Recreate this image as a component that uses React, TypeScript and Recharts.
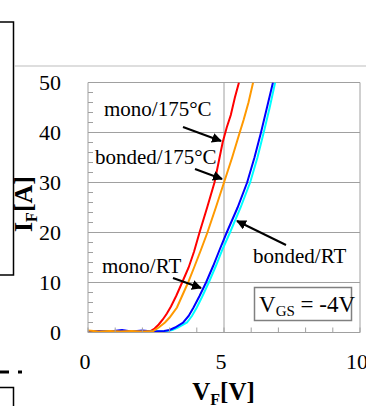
import { LineChart, Line, XAxis, YAxis, ReferenceLine } from 'recharts';

// forward I-V curves, V_F [V] against I_F [A]
const monoHotV = [0, 0.4, 0.8, 1.2, 1.6, 2.0, 2.3, 2.45, 2.6, 2.75, 2.9, 3.05, 3.25, 3.46, 3.7, 3.9, 4.1, 4.38, 4.65, 4.8, 4.95, 5.1, 5.25, 5.4, 5.55];
const monoHotI = [0.3, 0.2, 0.3, 0.2, 0.3, 0.2, 0.3, 0.8, 1.6, 2.6, 3.8, 5.2, 7.4, 10, 13, 16.2, 20, 25, 30, 34, 38, 41, 43.5, 47, 50];

const bondedHotV = [0, 0.4, 0.8, 1.2, 1.6, 2.0, 2.4, 2.6, 2.83, 3.0, 3.27, 3.45, 3.68, 3.9, 4.15, 4.39, 4.7, 5.0, 5.3, 5.55, 5.72, 5.9, 6.07];
const bondedHotI = [0.4, 0.2, 0.3, 0.2, 0.3, 0.2, 0.3, 1.0, 2.0, 3.0, 5.0, 7.2, 10, 13, 16.5, 20, 25, 30, 35, 39.5, 42.5, 46, 50];

const monoRtV = [0, 0.4, 0.8, 1.25, 1.6, 2.0, 2.4, 2.8, 3.0, 3.2, 3.5, 3.7, 3.88, 4.1, 4.34, 4.6, 4.85, 5.1, 5.5, 5.85, 6.12, 6.36, 6.58, 6.8];
const monoRtI = [0.2, 0.3, 0.2, 0.5, 0.2, 0.4, 0.2, 0.3, 0.5, 1.0, 2.0, 3.3, 5.0, 7.3, 10, 13.3, 16.7, 20, 25, 30, 35, 40, 45, 50];

const bondedRtV = [0, 0.4, 0.8, 1.2, 1.6, 2.0, 2.4, 2.8, 3.1, 3.3, 3.64, 3.82, 4.0, 4.2, 4.44, 4.7, 4.95, 5.22, 5.61, 5.96, 6.23, 6.46, 6.68, 6.88];
const bondedRtI = [0.2, 0.2, 0.3, 0.2, 0.3, 0.2, 0.3, 0.2, 0.5, 1.0, 2.0, 3.3, 5.0, 7.2, 10, 13.3, 16.7, 20, 25, 30, 35, 40, 45, 50];

const xTicks = [0, 1, 2, 3, 4, 5, 6, 7, 8, 9, 10];
const yTicks = [0, 2, 4, 6, 8, 10, 12, 14, 16, 18, 20, 22, 24, 26, 28, 30, 32, 34, 36, 38, 40, 42, 44, 46, 48, 50];
const xLabelTicks = [0, 5, 10];
const yLabelTicks = [0, 10, 20, 30, 40, 50];
const gridY = [10, 20, 30, 40];

const pts = (v: number[], i: number[]) => v.map((x, k) => ({ v: x, i: i[k] }));

const serif = '"Liberation Serif", "Times New Roman", serif';
const grey = '#a0a0a0';

const YTick = (props: any) => {
  const { x, y, payload } = props;
  return (
    <g>
      <line x1={x} x2={x + 5} y1={y} y2={y} stroke={grey} />
      {yLabelTicks.includes(payload.value) && (
        <text x={x - 27} y={y + 7.5} textAnchor="end" fontFamily={serif} fontSize={22} fill="#000">
          {payload.value}
        </text>
      )}
    </g>
  );
};

const XTick = (props: any) => {
  const { x, y, payload } = props;
  return (
    <g>
      <line x1={x} x2={x} y1={y} y2={y - 5} stroke={grey} />
      {xLabelTicks.includes(payload.value) && (
        <text x={x - 3} y={y + 36.5} textAnchor="middle" fontFamily={serif} fontSize={22} fill="#000">
          {payload.value}
        </text>
      )}
    </g>
  );
};

export default function App() {
  return (
    <div style={{ position: 'fixed', left: 0, top: 0, width: 366, height: 406, overflow: 'hidden', background: '#fff' }}>
      <LineChart width={400} height={406} margin={{ top: 82.5, right: 40, bottom: 43.5, left: 0 }}>
        <XAxis
          type="number"
          dataKey="v"
          domain={[0, 10]}
          ticks={xTicks}
          interval={0}
          tickSize={0}
          tickMargin={0}
          tickLine={false}
          tick={<XTick />}
          stroke={grey}
          height={30}
        />
        <YAxis
          type="number"
          dataKey="i"
          domain={[0, 50]}
          ticks={yTicks}
          interval={0}
          tickSize={0}
          tickMargin={0}
          tickLine={false}
          tick={<YTick />}
          stroke={grey}
          width={88}
          allowDataOverflow
        />
        {gridY.map(g => (
          <ReferenceLine key={g} y={g} stroke={grey} />
        ))}
        <ReferenceLine x={5} stroke={grey} />
        <ReferenceLine y={50} stroke={grey} />
        <ReferenceLine x={10} stroke={grey} />
        <Line data={pts(monoHotV, monoHotI)} dataKey="i" stroke="#ff0000" strokeWidth={2} dot={false} isAnimationActive={false} />
        <Line data={pts(bondedRtV, bondedRtI)} dataKey="i" stroke="#00ffff" strokeWidth={2} dot={false} isAnimationActive={false} />
        <Line data={pts(monoRtV, monoRtI)} dataKey="i" stroke="#0000ff" strokeWidth={2} dot={false} isAnimationActive={false} />
        <Line data={pts(bondedHotV, bondedHotI)} dataKey="i" stroke="#ff9900" strokeWidth={2} dot={false} isAnimationActive={false} />
      </LineChart>

      <svg width={366} height={406} style={{ position: 'absolute', left: 0, top: 0, pointerEvents: 'none' }}>
        <defs>
          <marker id="arr" viewBox="0 0 10 10" refX="9" refY="5" markerWidth="5" markerHeight="5" orient="auto">
            <path d="M0,0 L10,5 L0,10 z" fill="#000" />
          </marker>
        </defs>
        {/* pieces of the neighbouring figure */}
        <path d="M0,22 H13.5 V275 H0" fill="none" stroke="#000" strokeWidth={1.5} />
        <line x1={14} x2={366} y1={66} y2={66} stroke="#bdbdbd" />
        <line x1={0} x2={9} y1={372} y2={372} stroke="#000" strokeWidth={3} />
        <line x1={18} x2={22} y1={372} y2={372} stroke="#000" strokeWidth={3} />
        <path d="M0,387.5 H13.5 V406" fill="none" stroke="#000" strokeWidth={1.5} />

        <g fontFamily={serif} fontSize={21} fill="#000">
          <text x={104} y={116}>mono/175°C</text>
          <text x={95} y={163.5}>bonded/175°C</text>
          <text x={253} y={263}>bonded/RT</text>
          <text x={102} y={273}>mono/RT</text>
        </g>
        <g stroke="#000" strokeWidth={2} markerEnd="url(#arr)">
          <line x1={183} y1={127} x2={221} y2={141} />
          <line x1={195} y1={169} x2={222} y2={179} />
          <line x1={286} y1={245} x2={237} y2={221} />
          <line x1={173} y1={278} x2={201} y2={288} />
        </g>

        <rect x={254.5} y={287.5} width={97} height={33} fill="#fff" stroke="#808080" strokeWidth={1.5} />
        <text x={259} y={312} fontFamily={serif} fontSize={23} fill="#000">
          V<tspan fontSize={15} dy={4}>GS</tspan>
          <tspan dy={-4}> = -4V</tspan>
        </text>

        <text x={223.5} y={400} textAnchor="middle" fontFamily={serif} fontSize={25} fontWeight="bold" fill="#000">
          V<tspan fontSize={16} dy={5}>F</tspan>
          <tspan dy={-5}>[V]</tspan>
        </text>
        <text
          x={32}
          y={204}
          textAnchor="middle"
          transform="rotate(-90 32 204)"
          fontFamily={serif}
          fontSize={26}
          fontWeight="bold"
          fill="#000"
        >
          I<tspan fontSize={16} dy={5}>F</tspan>
          <tspan dy={-5}>[A]</tspan>
        </text>
      </svg>
    </div>
  );
}
